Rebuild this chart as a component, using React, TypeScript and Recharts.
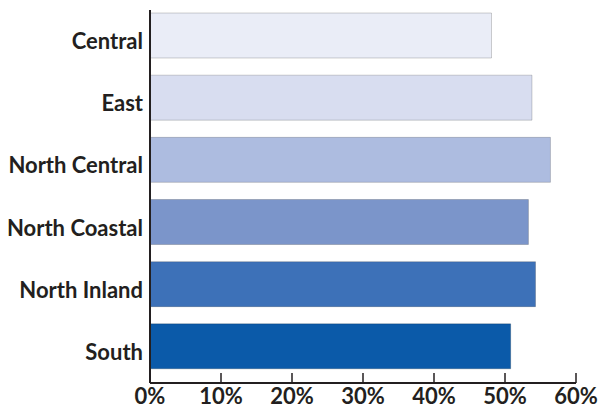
import { Bar, BarChart, Cell, XAxis, YAxis } from "recharts";

const regions = ["Central", "East", "North Central", "North Coastal", "North Inland", "South"];
const shares = [48.1, 53.8, 56.4, 53.3, 54.3, 50.8];
const barColors = ["#eaedf7", "#d8ddf0", "#adbce0", "#7b95ca", "#3d71b8", "#0b5aa9"];
const xTicks = [0, 10, 20, 30, 40, 50, 60];

const data = regions.map((name, i) => ({ name, value: shares[i] }));

const INK = "#231f20";
const FONT = "Lato, 'Open Sans', sans-serif";

function PercentTick({ x, y, payload }: any) {
  return (
    <g>
      <line x1={x} x2={x} y1={y - 10} y2={y} stroke={INK} strokeWidth={1.5} />
      <text x={x} y={y + 21} textAnchor="middle" fill={INK} fontFamily={FONT} fontWeight={700} fontSize={22}>
        {payload.value}%
      </text>
    </g>
  );
}

function RegionTick({ x, y, payload }: any) {
  // labels sit at the band centre, bars are nudged up a little
  return (
    <text x={x} y={y + 14} textAnchor="end" fill={INK} fontFamily={FONT} fontWeight={700} fontSize={22}>
      {payload.value}
    </text>
  );
}

export default function App() {
  return (
    <div style={{ position: "absolute", left: 0, top: 0, width: 611, height: 410, background: "#fff" }}>
      <BarChart
        width={611}
        height={410}
        data={data}
        layout="vertical"
        margin={{ top: 10, right: 35, bottom: 0, left: 0 }}
        barSize={45}
      >
        <XAxis
          type="number"
          domain={[0, 60]}
          ticks={xTicks}
          height={27}
          axisLine={{ stroke: INK, strokeWidth: 2 }}
          tickLine={false}
          tickSize={0}
          tickMargin={0}
          tick={<PercentTick />}
          interval={0}
        />
        <YAxis
          type="category"
          dataKey="name"
          width={150}
          padding={{ top: -6, bottom: 6 }}
          axisLine={{ stroke: INK, strokeWidth: 2 }}
          tickLine={false}
          tickSize={0}
          tickMargin={7}
          tick={<RegionTick />}
          interval={0}
        />
        <Bar dataKey="value" isAnimationActive={false} stroke="rgba(0,0,0,0.18)" strokeWidth={1}>
          {data.map((d, i) => (
            <Cell key={d.name} fill={barColors[i]} />
          ))}
        </Bar>
      </BarChart>
    </div>
  );
}
